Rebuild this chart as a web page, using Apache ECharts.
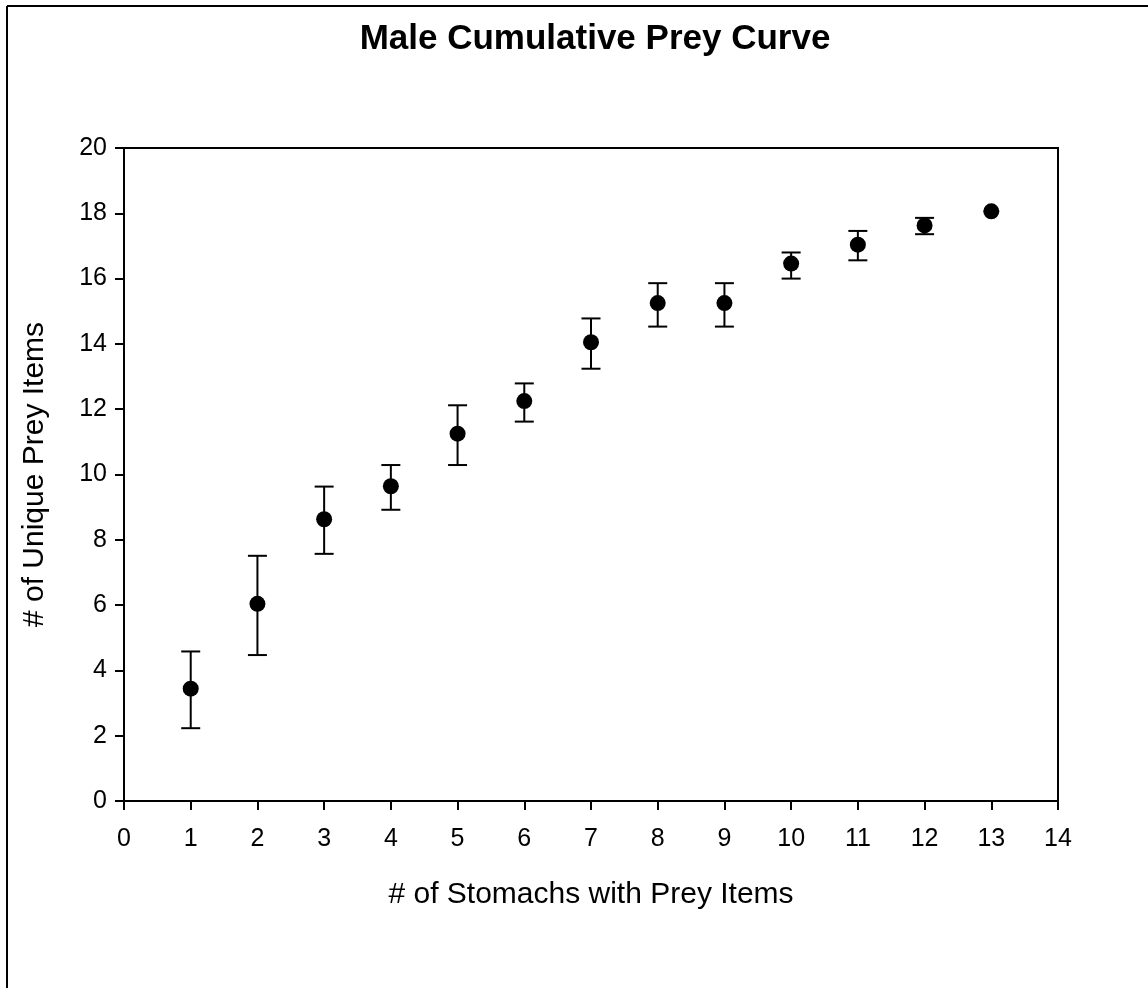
<!DOCTYPE html>
<html>
<head>
<meta charset="utf-8">
<title>Male Cumulative Prey Curve</title>
<script src="https://cdn.jsdelivr.net/npm/echarts@6/dist/echarts.min.js"></script>
<style>
  html, body { margin: 0; padding: 0; background: #fff; }
  #chart { width: 1148px; height: 988px; }
</style>
</head>
<body>
<div id="chart"></div>
<script>
// values
var stomachs = [1, 2, 3, 4, 5, 6, 7, 8, 9, 10, 11, 12, 13];
var meanPrey = [3.44, 6.04, 8.63, 9.64, 11.25, 12.25, 14.05, 15.25, 15.25, 16.46, 17.04, 17.63, 18.06];
var upperPrey = [4.58, 7.51, 9.63, 10.29, 12.12, 12.79, 14.78, 15.86, 15.86, 16.80, 17.46, 17.86, 18.06];
var lowerPrey = [2.23, 4.47, 7.57, 8.92, 10.29, 11.62, 13.24, 14.53, 14.53, 16.00, 16.56, 17.36, 18.06];

var font = '"Liberation Sans", Arial, sans-serif';

var points = stomachs.map(function (s, i) { return [s, meanPrey[i]]; });
var bars = stomachs.map(function (s, i) { return [s, lowerPrey[i], upperPrey[i]]; });

var chart = echarts.init(document.getElementById('chart'));

function errorBar(params, api) {
  var lo = api.coord([api.value(0), api.value(1)]);
  var hi = api.coord([api.value(0), api.value(2)]);
  if (Math.abs(hi[1] - lo[1]) < 1) return null;
  var half = 9.5;
  var style = { stroke: '#000', lineWidth: 2 };
  return {
    type: 'group',
    children: [
      { type: 'line', shape: { x1: lo[0], y1: lo[1], x2: hi[0], y2: hi[1] }, style: style },
      { type: 'line', shape: { x1: hi[0] - half, y1: hi[1], x2: hi[0] + half, y2: hi[1] }, style: style },
      { type: 'line', shape: { x1: lo[0] - half, y1: lo[1], x2: lo[0] + half, y2: lo[1] }, style: style }
    ]
  };
}

var option = {
  backgroundColor: '#fff',
  animation: false,
  title: {
    text: 'Male Cumulative Prey Curve',
    left: 590,
    textAlign: 'center',
    top: 17,
    textStyle: { fontFamily: font, fontWeight: 'bold', fontSize: 35, color: '#000' }
  },
  graphic: [
    { type: 'line', shape: { x1: 7, y1: 6, x2: 1148, y2: 6 }, style: { stroke: '#000', lineWidth: 2 } },
    { type: 'line', shape: { x1: 7, y1: 6, x2: 7, y2: 988 }, style: { stroke: '#000', lineWidth: 2 } }
  ],
  grid: {
    left: 124, right: 90, top: 148, bottom: 187,
    show: true, borderColor: '#000', borderWidth: 2, backgroundColor: 'transparent'
  },
  xAxis: {
    type: 'value',
    min: 0, max: 14, interval: 1,
    name: '# of Stomachs with Prey Items',
    nameLocation: 'middle',
    nameGap: 79,
    nameTextStyle: { fontFamily: font, fontSize: 30, color: '#000' },
    axisLine: { show: true, lineStyle: { color: '#000', width: 2 } },
    axisTick: { show: true, inside: false, length: 9, lineStyle: { color: '#000', width: 2 } },
    axisLabel: { fontFamily: font, fontSize: 25, color: '#000', margin: 26 },
    splitLine: { show: false }
  },
  yAxis: {
    type: 'value',
    min: 0, max: 20, interval: 2,
    name: '# of Unique Prey Items',
    nameLocation: 'middle',
    nameGap: 74,
    nameTextStyle: { fontFamily: font, fontSize: 30, color: '#000' },
    axisLine: { show: true, lineStyle: { color: '#000', width: 2 } },
    axisTick: { show: true, inside: false, length: 9, lineStyle: { color: '#000', width: 2 } },
    axisLabel: { fontFamily: font, fontSize: 25, color: '#000', margin: 17 },
    splitLine: { show: false }
  },
  series: [
    {
      type: 'custom',
      renderItem: errorBar,
      data: bars,
      encode: { x: 0, y: [1, 2] },
      z: 2
    },
    {
      type: 'scatter',
      data: points,
      symbol: 'circle',
      symbolSize: 16,
      itemStyle: { color: '#000', opacity: 1 },
      z: 3
    }
  ]
};

chart.setOption(option);
</script>
</body>
</html>
